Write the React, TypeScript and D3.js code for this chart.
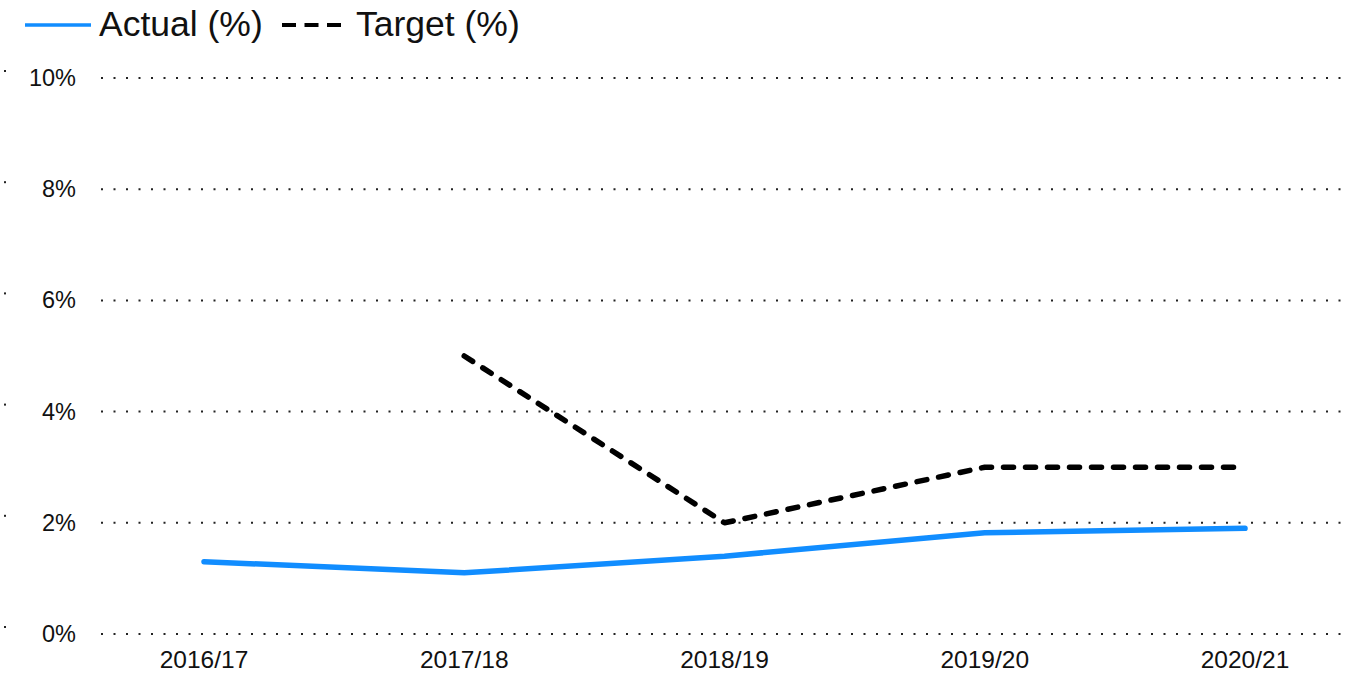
import React, { useEffect, useRef } from 'react';
import * as d3 from 'd3';

const years = ['2016/17', '2017/18', '2018/19', '2019/20', '2020/21'];
const actual = [1.3, 1.1, 1.4, 1.82, 1.9];
const target: (number | null)[] = [null, 5, 2, 3, 3];
const yTicks = [0, 2, 4, 6, 8, 10];

const App = () => {
    const svgRef = useRef<SVGSVGElement>(null);

    useEffect(() => {
        const width = 1358;
        const height = 675;
        const font = 'Arial, "Liberation Sans", sans-serif';

        const svg = d3.select(svgRef.current)
            .attr('width', width)
            .attr('height', height)
            .style('position', 'absolute')
            .style('left', 0)
            .style('top', 0);
        svg.selectAll('*').remove();

        const x = d3.scalePoint<string>()
            .domain(years)
            .range([204, 1245]);

        const y = d3.scaleLinear()
            .domain([0, 10])
            .range([634, 78]);

        // dotted gridlines, plus the small tick dot at far left
        const grid = svg.append('g');
        grid.selectAll('line.grid')
            .data(yTicks)
            .join('line')
            .attr('class', 'grid')
            .attr('x1', 101)
            .attr('x2', 1350)
            .attr('y1', d => y(d))
            .attr('y2', d => y(d))
            .attr('stroke', '#222')
            .attr('stroke-width', 2)
            .attr('stroke-dasharray', '2 10.5');
        grid.selectAll('rect.tick')
            .data(yTicks)
            .join('rect')
            .attr('class', 'tick')
            .attr('x', 4)
            .attr('y', d => y(d) - 8)
            .attr('width', 2)
            .attr('height', 2)
            .attr('fill', '#222');

        grid.selectAll('text')
            .data(yTicks)
            .join('text')
            .attr('x', 76)
            .attr('y', d => y(d) + 8)
            .attr('text-anchor', 'end')
            .style('font-family', font)
            .style('font-size', '23.5px')
            .style('fill', '#111')
            .text(d => `${d}%`);

        svg.append('g')
            .selectAll('text')
            .data(years)
            .join('text')
            .attr('x', d => x(d) as number)
            .attr('y', 668)
            .attr('text-anchor', 'middle')
            .style('font-family', font)
            .style('font-size', '24.5px')
            .style('fill', '#111')
            .text(d => d);

        const actualLine = d3.line<number>()
            .x((_, i) => x(years[i]) as number)
            .y(d => y(d));

        svg.append('path')
            .datum(actual)
            .attr('d', actualLine)
            .attr('fill', 'none')
            .attr('stroke', '#118DFF')
            .attr('stroke-width', 5.5)
            .attr('stroke-linecap', 'round')
            .attr('stroke-linejoin', 'round');

        const targetLine = d3.line<number | null>()
            .defined(d => d !== null)
            .x((_, i) => x(years[i]) as number)
            .y(d => y(d as number));

        svg.append('path')
            .datum(target)
            .attr('d', targetLine)
            .attr('fill', 'none')
            .attr('stroke', '#000')
            .attr('stroke-width', 5.5)
            .attr('stroke-dasharray', '10 12')
            .attr('stroke-linecap', 'round')
            .attr('stroke-linejoin', 'round');

        // legend
        const legend = svg.append('g');
        legend.append('line')
            .attr('x1', 25).attr('x2', 91)
            .attr('y1', 25).attr('y2', 25)
            .attr('stroke', '#118DFF')
            .attr('stroke-width', 3.5);
        legend.append('text')
            .attr('x', 99)
            .attr('y', 36)
            .style('font-family', font)
            .style('font-size', '35.5px')
            .style('fill', '#111')
            .text('Actual (%)');
        legend.append('line')
            .attr('x1', 282).attr('x2', 341)
            .attr('y1', 25).attr('y2', 25)
            .attr('stroke', '#000')
            .attr('stroke-width', 4)
            .attr('stroke-dasharray', '14 8.5');
        legend.append('text')
            .attr('x', 356)
            .attr('y', 36)
            .style('font-family', font)
            .style('font-size', '35.5px')
            .style('fill', '#111')
            .text('Target (%)');
    }, []);

    return <svg ref={svgRef}></svg>;
};

export default App;
